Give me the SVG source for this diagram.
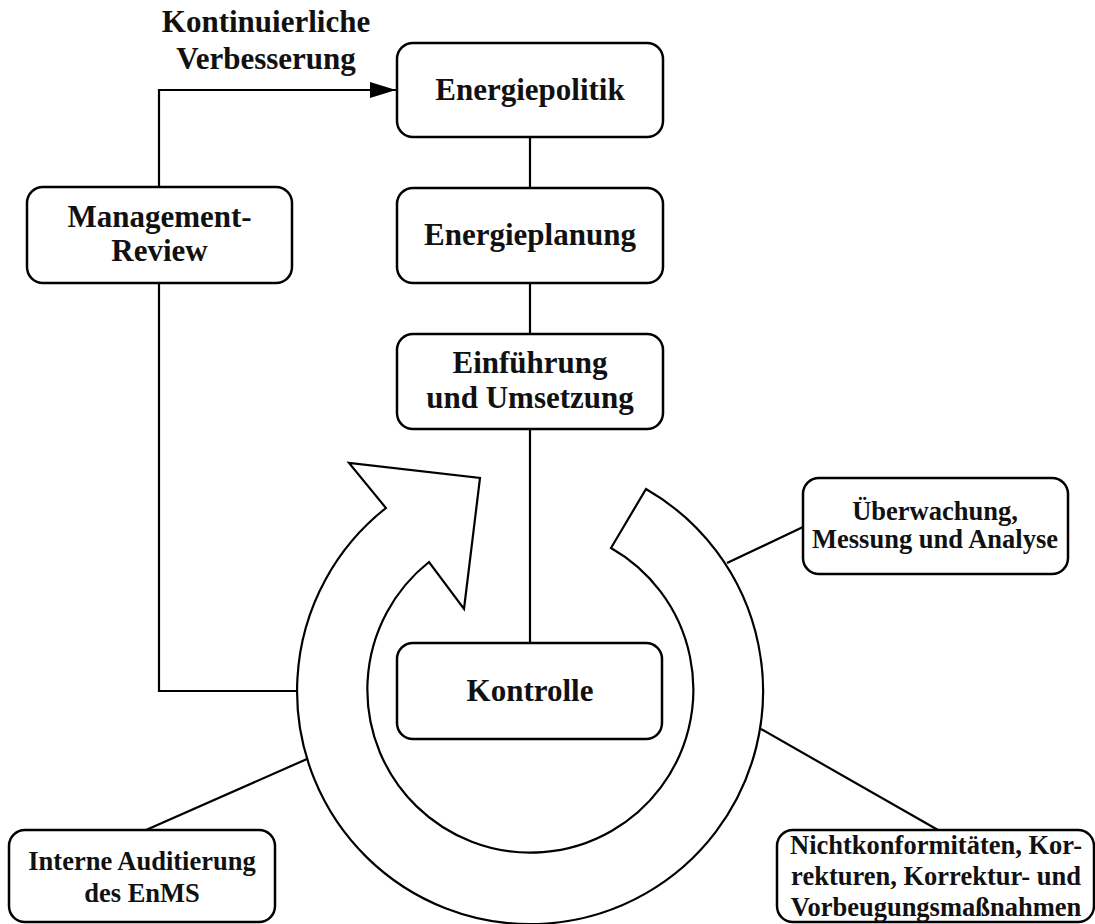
<svg xmlns="http://www.w3.org/2000/svg" width="1095" height="924" viewBox="0 0 1095 924">
<style>
.box{fill:#fff;stroke:#000;stroke-width:2.5}
.ln{fill:none;stroke:#000;stroke-width:2.2}
.t{font-family:"Liberation Serif","Times New Roman",serif;font-weight:bold;font-size:31px;text-anchor:middle;fill:#111}
.s{font-family:"Liberation Serif","Times New Roman",serif;font-weight:bold;font-size:26.5px;text-anchor:middle;fill:#111}
</style>
<defs>
<marker id="ah" markerWidth="26" markerHeight="16" refX="26" refY="8" orient="auto" markerUnits="userSpaceOnUse">
<path d="M0,0 L26,8 L0,16 Z" fill="#000"/>
</marker>
</defs>
<g id="ring">
<path class="ln" d="M646 489 A233 233 0 1 1 386 508 L349 463 L480 478 L464 609 L429 562 A163 163 0 1 0 611 548 Z" fill="#fff"/>
</g>
<g id="connectors">
<path class="ln" d="M159 283 L159 691 L298 691"/>
<path class="ln" d="M159 187 L159 90 L396 90" marker-end="url(#ah)"/>
<path class="ln" d="M530 137 L530 188"/>
<path class="ln" d="M530 283 L530 334"/>
<path class="ln" d="M530 429 L530 643"/>
<path class="ln" d="M727 563 L803 527"/>
<path class="ln" d="M307 759 L146 830"/>
<path class="ln" d="M761 729 L938 830"/>
</g>
<g id="label-kv">
<text class="t" x="266" y="32">Kontinuierliche</text>
<text class="t" x="266" y="69">Verbesserung</text>
</g>
<g id="energiepolitik">
<rect class="box" x="397" y="43" width="266" height="94" rx="16"/>
<text class="t" x="530" y="100">Energiepolitik</text>
</g>
<g id="energieplanung">
<rect class="box" x="397" y="188" width="266" height="95" rx="16"/>
<text class="t" x="530" y="245">Energieplanung</text>
</g>
<g id="einfuehrung">
<rect class="box" x="397" y="334" width="266" height="95" rx="16"/>
<text class="t" x="530" y="373">Einführung</text>
<text class="t" x="530" y="408">und Umsetzung</text>
</g>
<g id="management">
<rect class="box" x="27" y="187" width="265" height="96" rx="16"/>
<text class="t" x="159.5" y="227">Management-</text>
<text class="t" x="159.5" y="261">Review</text>
</g>
<g id="kontrolle">
<rect class="box" x="397" y="643" width="265" height="96" rx="16"/>
<text class="t" x="530" y="701">Kontrolle</text>
</g>
<g id="ueberwachung">
<rect class="box" x="803" y="478" width="265" height="96" rx="16"/>
<text class="s" x="935" y="520">Überwachung,</text>
<text class="s" x="935" y="548">Messung und Analyse</text>
</g>
<g id="audit">
<rect class="box" x="9" y="830" width="266" height="92" rx="16"/>
<text class="s" x="142" y="870">Interne Auditierung</text>
<text class="s" x="142" y="902">des EnMS</text>
</g>
<g id="nichtkonform">
<rect class="box" x="777" y="830" width="317" height="92" rx="16"/>
<text class="s" x="936" y="854">Nichtkonformitäten, Kor-</text>
<text class="s" x="936" y="885">rekturen, Korrektur- und</text>
<text class="s" x="936" y="916">Vorbeugungsmaßnahmen</text>
</g>
</svg>
